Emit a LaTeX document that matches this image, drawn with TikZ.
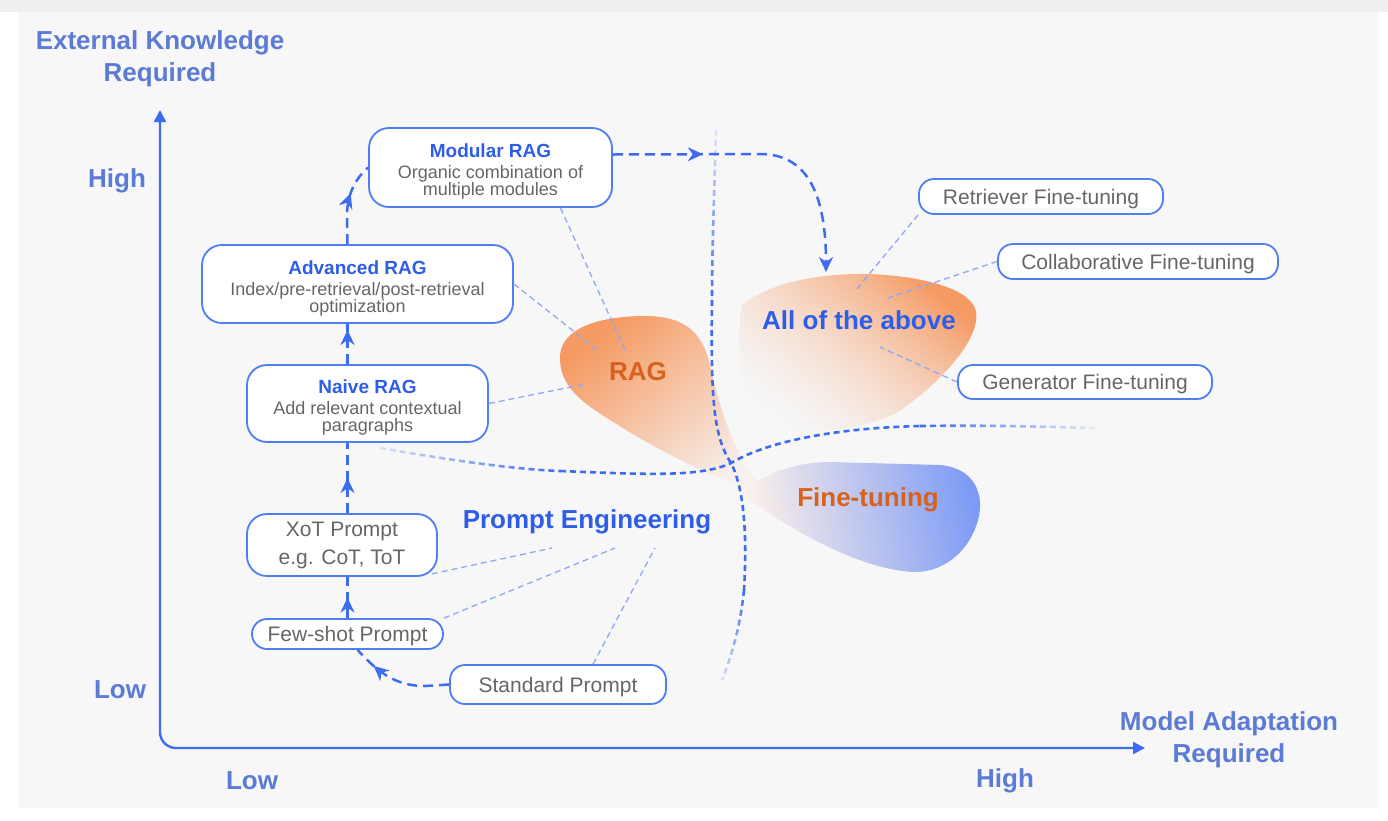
\documentclass[tikz,border=0pt]{standalone}
\usepackage{fontspec}
\setmainfont{Liberation Sans}
\usetikzlibrary{arrows.meta,decorations.markings,fadings}

\definecolor{panel}{HTML}{F7F7F8}
\definecolor{topstrip}{HTML}{EFEFF0}
\definecolor{boxblue}{HTML}{4F7DF3}
\definecolor{arrowblue}{HTML}{3D6CF0}
\definecolor{leaderblue}{HTML}{8FA8F2}
\definecolor{axistext}{HTML}{5B7BD5}
\definecolor{titleblue}{HTML}{2E5EE8}
\definecolor{orangetext}{HTML}{D6621E}
\definecolor{greytext}{HTML}{666666}
\definecolor{orangeblob}{HTML}{F59A62}
\definecolor{blueblob}{HTML}{7D9BF5}

\newcommand\boxtitle[1]{{\fontsize{19}{21}\selectfont\bfseries\color{titleblue}\rule{0pt}{22pt}#1}}

\tikzfading[name=fade in down, top color=transparent!88, bottom color=transparent!0]
\tikzfading[name=fade out down, top color=transparent!0, bottom color=transparent!85]
\tikzfading[name=fade in right, left color=transparent!85, right color=transparent!0]
\tikzfading[name=fade out right, left color=transparent!0, right color=transparent!92]

\begin{document}
\begin{tikzpicture}[x=1pt, y=-1pt,
  box/.style={draw=boxblue, line width=1.8pt, fill=white, rounded corners=20pt, align=center,
    text=greytext, font=\fontsize{18}{17}\selectfont, inner sep=0pt},
  pill/.style={box, rounded corners=15pt, font=\fontsize{21}{22}\selectfont, text depth=0pt},
  flow/.style={color=arrowblue, line width=2.5pt, dash pattern=on 10pt off 6pt},
  midarrow/.style={postaction={decorate}, decoration={markings,
    mark=at position #1 with {\arrow{Stealth[length=15pt,width=14pt]}}}},
  leader/.style={draw=leaderblue, line width=1.3pt, dash pattern=on 6pt off 4pt},
  border/.style={draw=arrowblue, line width=2.6pt, dash pattern=on 6pt off 4pt},
  axislbl/.style={text=axistext, font=\fontsize{26}{32}\selectfont\bfseries, align=center},
  blobtitle/.style={font=\fontsize{26}{28}\selectfont\bfseries}]
\useasboundingbox (0,0) rectangle (1388,820);
\fill[white] (0,0) rectangle (1388,820);
\fill[topstrip] (0,0) rectangle (1388,12);
\fill[panel] (18,12) rectangle (1378,808);

% shaded regions
\shade[top color=orangeblob, bottom color=orangeblob!8!panel, shading angle=40]
  (560,360) .. controls (558,328) and (600,316) .. (645,316)
  .. controls (682,316) and (702,330) .. (710,365)
  .. controls (720,410) and (735,460) .. (768,494)
  .. controls (720,482) and (660,452) .. (610,420)
  .. controls (578,400) and (561,385) .. cycle;
\shade[left color=orangeblob!14!white, middle color=blueblob!30!white, right color=blueblob, shading angle=100]
  (740,493) .. controls (770,470) and (800,462) .. (830,462) -- (940,465)
  .. controls (975,468) and (985,495) .. (978,520)
  .. controls (970,550) and (945,572) .. (915,572)
  .. controls (860,570) and (790,530) .. cycle;
\shade[top color=orangeblob, bottom color=orangeblob!30!panel, shading angle=-50, path fading=north, fading angle=135]
  (742,305) .. controls (770,282) and (820,273) .. (870,274)
  .. controls (920,276) and (972,288) .. (976,312)
  .. controls (980,340) and (940,382) .. (905,407)
  .. controls (880,427) and (800,440) .. (758,430)
  .. controls (738,400) and (736,330) .. cycle;

% region borders
\draw[border, path fading=fade in down] (716,130) .. controls (714,200) and (712,250) .. (712,300);
\draw[border] (712,300) .. controls (711,390) and (712,435) .. (731,463)
  .. controls (745,490) and (747,540) .. (744,590);
\draw[border, path fading=fade out down] (744,590) .. controls (740,630) and (730,660) .. (722,680);
\draw[border, path fading=fade in right] (380,448) .. controls (450,460) and (510,469) .. (560,471);
\draw[border] (560,471) .. controls (640,474) and (700,478) .. (731,463)
  .. controls (770,440) and (840,428) .. (920,426);
\draw[border, path fading=fade out right] (920,426) .. controls (1000,425) and (1050,427) .. (1095,428);

% axes
\coordinate (ytop) at (160,110);
\coordinate (origin) at (160,748);
\coordinate (xend) at (1145,748);
\draw[arrowblue, line width=2.4pt, rounded corners=16pt, {Triangle[length=12pt,width=12pt]}-{Triangle[length=12pt,width=12pt]}]
  (ytop) -- (origin) -- (xend);
\node[axislbl] (ylabel) at (160,59) {External Knowledge\\Required};
\node[axislbl] (xlabel) at (1229,740) {Model Adaptation\\Required};
\node[axislbl] (yhigh) at (117,181) {High};
\node[axislbl] (ylow) at (120,690) {Low};
\node[axislbl] (xlow) at (252,781) {Low};
\node[axislbl] (xhigh) at (1005,781) {High};

% leader ends
\coordinate (ragtip1) at (625,350);
\coordinate (ragtip2) at (600,352);
\coordinate (ragtip3) at (586,384);
\coordinate (petip1) at (552,548);
\coordinate (petip2) at (615,548);
\coordinate (petip3) at (655,548);
\coordinate (alltip1) at (856,290);
\coordinate (alltip2) at (888,298);
\coordinate (alltip3) at (880,347);
\coordinate (allin) at (826,272);

% boxes
\node[box, minimum width=243, minimum height=79] (modular) at (490.5,167.5)
  {\boxtitle{Modular RAG}\\[4pt]Organic combination of\\multiple modules};
\node[box, minimum width=311, minimum height=78] (advanced) at (357.5,284)
  {\boxtitle{Advanced RAG}\\[4pt]Index/pre-retrieval/post-retrieval\\optimization};
\node[box, minimum width=241, minimum height=77] (naive) at (367.5,403.5)
  {\boxtitle{Naive RAG}\\[4pt]Add relevant contextual\\paragraphs};
\node[box, font=\fontsize{21}{22}\selectfont, minimum width=190, minimum height=62] (xot) at (342,545)
  {XoT Prompt\\[6pt]e.g. CoT, ToT};
\node[pill, minimum width=191, minimum height=30] (fewshot) at (347.5,634) {Few-shot Prompt};
\node[pill, minimum width=216, minimum height=39] (standard) at (558,684.5) {Standard Prompt};
\node[pill, minimum width=244, minimum height=35] (retriever) at (1041,196.5) {Retriever Fine-tuning};
\node[pill, minimum width=280, minimum height=35] (collab) at (1138,261.5) {Collaborative Fine-tuning};
\node[pill, minimum width=254, minimum height=34] (generator) at (1085,382) {Generator Fine-tuning};

% leaders
\draw[leader] ([xshift=70pt]modular.south) -- (ragtip1);
\draw[leader] (advanced.east) -- (ragtip2);
\draw[leader] (naive.east) -- (ragtip3);
\draw[leader] ([xshift=-6pt,yshift=3pt]xot.south east) -- (petip1);
\draw[leader] (fewshot.north east) -- (petip2);
\draw[leader] ([xshift=35pt]standard.north) -- (petip3);
\draw[leader] (retriever.south west) -- (alltip1);
\draw[leader] (collab.west) -- (alltip2);
\draw[leader] (generator.west) -- (alltip3);

% flow arrows
\draw[flow, midarrow=0.5] (fewshot.north) -- (fewshot.north |- xot.south);
\draw[flow, midarrow=0.5] (fewshot.north |- xot.north) -- (fewshot.north |- naive.south);
\draw[flow, midarrow=0.85] (fewshot.north |- naive.north) -- (fewshot.north |- advanced.south);
\draw[flow, midarrow=0.62] (fewshot.north |- advanced.north) -- (347,215)
  .. controls (347,192) and (358,176) .. (modular.west);
\draw[flow, midarrow=0.3, -{Stealth[length=15pt,width=14pt]}] ([yshift=13pt]modular.east) -- (760,154)
  .. controls (805,154) and (826,190) .. (allin);
\draw[flow, midarrow=0.78] (standard.west) -- (425,686)
  .. controls (395,686) and (378,672) .. ([xshift=10pt]fewshot.south);

% region labels
\node[blobtitle, text=orangetext] (rag) at (638,372) {RAG};
\node[blobtitle, text=orangetext] (ft) at (868,500) {Fine-tuning};
\node[blobtitle, text=titleblue] (allabove) at (859,320) {All of the above};
\node[blobtitle, text=titleblue] (pe) at (587,522) {Prompt Engineering};
\end{tikzpicture}
\end{document}
